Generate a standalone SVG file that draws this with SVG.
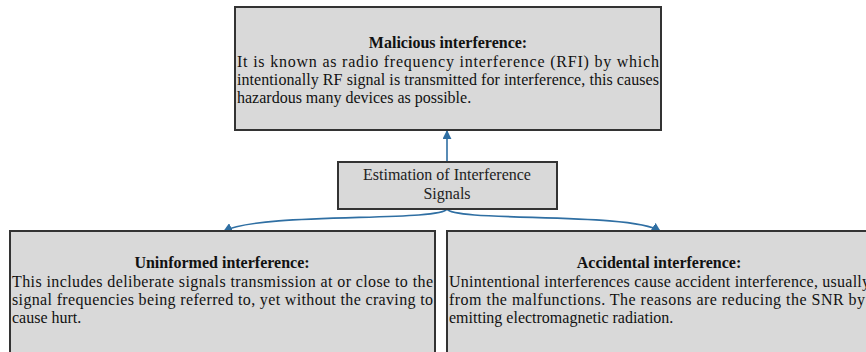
<svg xmlns="http://www.w3.org/2000/svg" width="866" height="352" viewBox="0 0 866 352">
  <defs>
    <marker id="arrow" viewBox="0 0 10 10" refX="9" refY="5" markerWidth="9" markerHeight="9" markerUnits="userSpaceOnUse" orient="auto">
      <path d="M0,0 L10,5 L0,10 z" fill="#2f6fa3"/>
    </marker>
    <style>
      text { font-family: 'Liberation Serif', 'Times New Roman', serif; font-size: 16px; }
      .box { fill: #d9d9d9; stroke: #333333; stroke-width: 2; }
      .title { font-weight: bold; fill: #111111; text-anchor: middle; }
      .body { fill: #111111; }
      .mid { fill: #222222; text-anchor: middle; }
      .conn { fill: none; stroke: #2f6fa3; stroke-width: 1.6; marker-end: url(#arrow); }
    </style>
  </defs>

  <g id="connectors">
    <path class="conn" d="M447,162 L447,131"/>
    <path class="conn" d="M447,209 C440,222 260,212 224,231"/>
    <path class="conn" d="M447,209 C454,222 630,212 660,231"/>
  </g>

  <g id="malicious">
    <rect class="box" x="235" y="7" width="426" height="123"/>
    <text class="title" x="448" y="48">Malicious interference:</text>
    <text class="body" x="237" y="67" textLength="422" lengthAdjust="spacing">It is known as radio frequency interference (RFI) by which</text>
    <text class="body" x="237" y="85" textLength="422" lengthAdjust="spacing">intentionally RF signal is transmitted for interference, this causes</text>
    <text class="body" x="237" y="103">hazardous many devices as possible.</text>
  </g>

  <g id="estimation">
    <rect class="box" x="338" y="162" width="219" height="47"/>
    <text class="mid" x="447" y="180">Estimation of Interference</text>
    <text class="mid" x="447" y="199">Signals</text>
  </g>

  <g id="uninformed">
    <rect class="box" x="10" y="231" width="425" height="140"/>
    <text class="title" x="222" y="268">Uninformed interference:</text>
    <text class="body" x="12" y="287" textLength="421" lengthAdjust="spacing">This includes deliberate signals transmission at or close to the</text>
    <text class="body" x="12" y="305" textLength="421" lengthAdjust="spacing">signal frequencies being referred to, yet without the craving to</text>
    <text class="body" x="12" y="323">cause hurt.</text>
  </g>

  <g id="accidental">
    <rect class="box" x="447" y="231" width="425" height="140"/>
    <text class="title" x="659" y="268">Accidental interference:</text>
    <text class="body" x="449" y="287" textLength="421" lengthAdjust="spacing">Unintentional interferences cause accident interference, usually</text>
    <text class="body" x="449" y="305" textLength="416" lengthAdjust="spacing">from the malfunctions. The reasons are reducing the SNR by</text>
    <text class="body" x="449" y="323">emitting electromagnetic radiation.</text>
  </g>
</svg>
